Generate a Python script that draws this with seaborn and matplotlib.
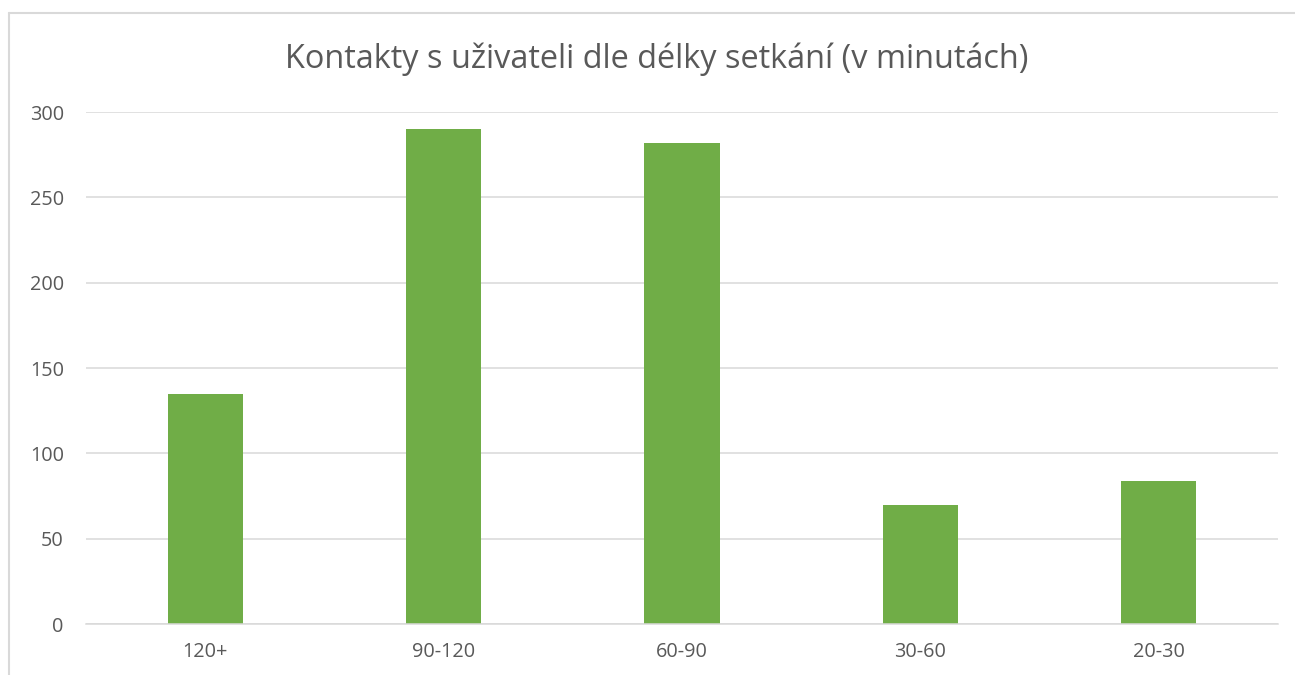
import pandas as pd
import seaborn as sns
import matplotlib.pyplot as plt
from matplotlib.lines import Line2D

# Chart data
categories = ['120+', '90-120', '60-90', '30-60', '20-30']
contacts = [135, 290, 282, 70, 84]
y_ticks = [0, 50, 100, 150, 200, 250, 300]

data = pd.DataFrame({'delka': categories, 'kontakty': contacts})

sns.set_style('white')
plt.rcParams['font.family'] = ['Open Sans', 'DejaVu Sans']

text_color = '#595959'
grid_color = '#D9D9D9'

fig = plt.figure(figsize=(12.95, 6.75), dpi=100)
ax = fig.add_axes([86 / 1295, 51 / 675, 1192 / 1295, 512 / 675])

sns.barplot(data=data, x='delka', y='kontakty', color='#70AD47', width=0.315,
            saturation=1, linewidth=0, ax=ax, zorder=3)

ax.set_ylim(0, 300)
ax.set_xlim(-0.5, len(categories) - 0.5)
ax.set_yticks(y_ticks)
ax.yaxis.grid(True, color=grid_color, linewidth=1.1, zorder=0)
ax.set_axisbelow(True)
for side in ['top', 'right', 'left']:
    ax.spines[side].set_visible(False)
ax.spines['bottom'].set_color(grid_color)
ax.spines['bottom'].set_linewidth(1.1)
ax.spines['bottom'].set_zorder(4)
ax.tick_params(axis='both', length=0, labelsize=14.3, labelcolor=text_color)
ax.tick_params(axis='y', pad=16)
ax.tick_params(axis='x', pad=13)
ax.set_xlabel('')
ax.set_ylabel('')

fig.text(657 / 1295, 1 - 59 / 675, 'Kontakty s uživateli dle délky setkání (v minutách)',
         ha='center', va='center', fontsize=23.4, color=text_color)

# chart frame (only top and left edges are visible in the crop)
fig.add_artist(Line2D([9 / 1295, 1.0], [1 - 13 / 675, 1 - 13 / 675],
                      transform=fig.transFigure, color=grid_color, linewidth=1.5))
fig.add_artist(Line2D([9 / 1295, 9 / 1295], [0.0, 1 - 13 / 675],
                      transform=fig.transFigure, color=grid_color, linewidth=1.5))

fig.savefig('out.png', dpi=100)
